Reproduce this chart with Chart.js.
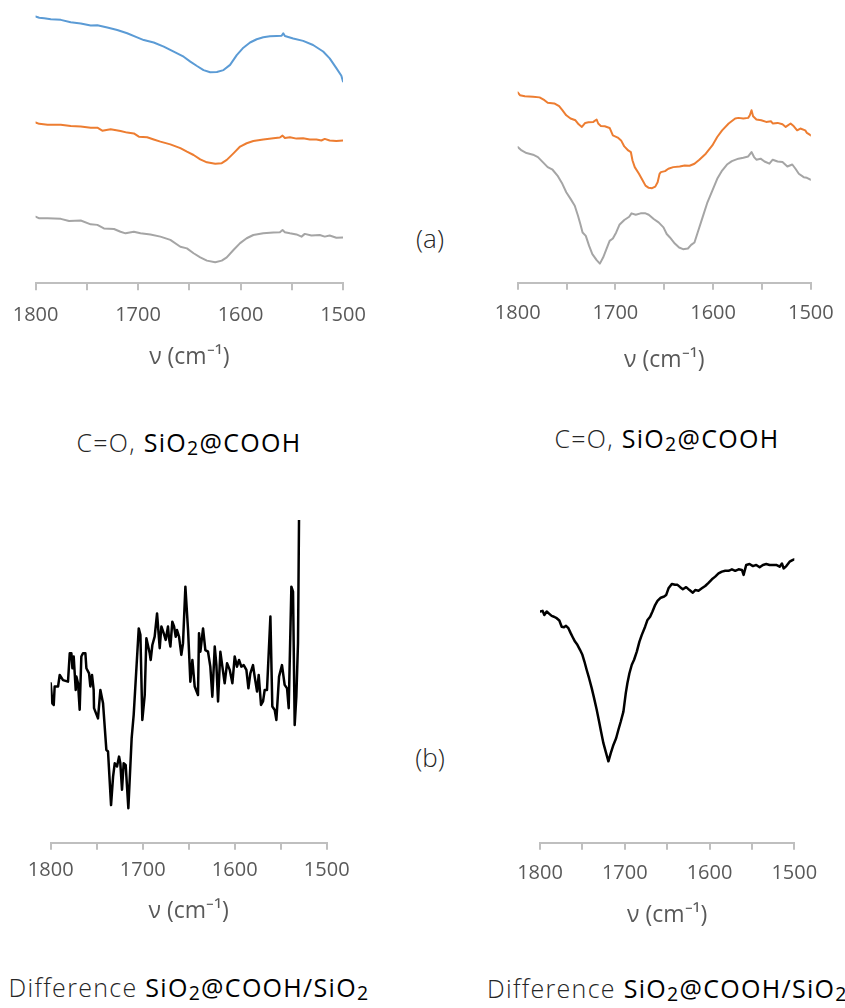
<!DOCTYPE html>
<html>
<head>
<meta charset="utf-8">
<script src="https://cdn.jsdelivr.net/npm/chart.js@4.4.1/dist/chart.umd.min.js"></script>
<style>
  html, body { margin: 0; padding: 0; background: #ffffff; }
  body { width: 845px; height: 1008px; position: relative; overflow: hidden; font-family: 'Open Sans', sans-serif; }
  canvas { position: absolute; }
  .cap { position: absolute; white-space: nowrap; line-height: 1; font-size: 25px; letter-spacing: 1.3px; color: #000; }
  .cap .lt { font-weight: 300; color: #262626; }
  .cap .sb { font-size: 0.78em; position: relative; top: 0.16em; }
  .lab { position: absolute; line-height: 1; font-size: 26px; font-weight: 300; color: #262626; transform: translate(-50%, -50%); }
</style>
</head>
<body>
<canvas id="cTL"></canvas>
<canvas id="cTR"></canvas>
<canvas id="cBL"></canvas>
<canvas id="cBR"></canvas>

<div class="lab" style="left:430px; top:238px;">(a)</div>
<div class="lab" style="left:430px; top:757px;">(b)</div>

<div class="cap" id="capTL" style="left:189px; top:442px; transform:translate(-50%,-50%);"><span class="lt">C=O, </span>SiO<span class="sb">2</span>@COOH</div>
<div class="cap" id="capTR" style="left:667px; top:438px; transform:translate(-50%,-50%);"><span class="lt">C=O, </span>SiO<span class="sb">2</span>@COOH</div>
<div class="cap" id="capBL" style="left:189px; top:987px; transform:translate(-50%,-50%);"><span class="lt">Difference </span>SiO<span class="sb">2</span>@COOH/SiO<span class="sb">2</span></div>
<div class="cap" id="capBR" style="left:487px; top:988px; transform:translate(0,-50%);"><span class="lt">Difference </span>SiO<span class="sb">2</span>@COOH/SiO<span class="sb">2</span></div>

<script>
// ---------- DATA (wavenumber in cm-1, intensity in arbitrary units) ----------
const xTicks = [1800, 1700, 1600, 1500];
const axisTitle = 'ν (cm⁻¹)';

// (a) left panel
const tlBlueX = [1800,1796.4,1791.6,1785.1,1775.4,1765.7,1755.9,1746.2,1739.7,1730.0,1720.3,1710.6,1700.9,1694.4,1684.7,1674.9,1665.2,1655.5,1649.0,1642.5,1636.1,1629.6,1623.1,1616.6,1610.2,1603.7,1597.2,1590.7,1584.2,1577.8,1571.3,1564.8,1559.9,1558.3,1556.7,1548.6,1538.9,1529.2,1519.4,1513.0,1506.5,1501.6,1500];
const tlBlueY = [97.7,97.3,97.1,96.7,96.5,95.6,95.2,94.4,94.5,93.7,92.8,91.6,90.1,89.1,88.2,86.7,84.9,83.0,81.2,79.6,78.1,77.3,77.4,78.1,80.0,83.6,86.3,88.2,89.4,90.1,90.5,90.6,90.7,91.6,90.6,89.7,88.8,87.3,84.9,82.4,78.8,76.0,73.9];

const tlOrangeX = [1800,1796.4,1788.3,1775.4,1765.7,1755.9,1746.2,1739.7,1734.9,1726.8,1717.1,1710.6,1704.1,1699.2,1691.1,1684.7,1678.2,1668.5,1658.7,1652.3,1645.8,1639.3,1632.8,1624.7,1618.3,1613.4,1606.9,1600.4,1594.0,1587.5,1577.8,1568.0,1561.6,1559.0,1556.7,1551.8,1545.4,1538.9,1532.4,1525.9,1521.1,1517.8,1513.0,1506.5,1500];
const tlOrangeY = [58.9,58.4,58.1,58.1,57.6,57.4,57.0,57.0,55.9,56.4,55.8,55.2,54.9,53.7,53.5,52.7,51.9,50.9,49.5,48.2,47.0,45.4,44.3,43.8,44.0,45.2,47.6,50.1,51.3,52.1,52.7,53.1,53.4,54.1,53.2,53.5,53.0,53.1,52.7,52.7,52.3,52.9,52.3,52.1,52.3];

const tlGrayX = [1800,1796.4,1788.3,1775.4,1767.3,1755.9,1746.2,1739.7,1733.3,1723.5,1717.1,1712.2,1704.1,1697.6,1687.9,1678.2,1668.5,1658.7,1652.3,1645.8,1639.3,1632.8,1624.7,1618.3,1613.4,1606.9,1600.4,1594.0,1587.5,1577.8,1568.0,1561.6,1559.0,1556.7,1551.8,1545.4,1540.5,1537.3,1530.8,1522.7,1517.8,1513.0,1506.5,1500];
const tlGrayY = [24.4,23.8,23.8,23.6,22.8,23.0,21.6,21.4,20.1,19.9,18.9,18.3,18.9,18.3,17.9,17.1,15.9,13.4,12.8,11.0,9.5,8.3,7.7,8.3,9.5,12.2,14.7,16.5,17.7,18.3,18.6,18.7,19.5,18.7,18.3,17.9,17.1,18.1,17.5,17.7,17.1,17.5,16.7,16.8];

// (a) right panel
const trOrangeX = [1800,1797.7,1792.7,1784.3,1777.6,1772.6,1769.3,1762.6,1757.6,1754.3,1750.3,1745.9,1740.9,1737.6,1734.3,1730.9,1727.6,1722.6,1719.2,1717.6,1714.9,1710.9,1705.9,1702.6,1697.6,1694.2,1690.9,1686.9,1684.2,1682.5,1680.2,1675.9,1672.5,1669.2,1665.9,1662.5,1659.2,1656.8,1654.8,1653.5,1649.2,1645.8,1640.8,1634.2,1629.1,1624.1,1619.1,1614.1,1607.5,1600.8,1595.8,1590.8,1584.1,1577.4,1574.1,1569.1,1564.1,1562.4,1560.7,1559.1,1555.7,1550.7,1545.7,1540.7,1539.0,1534.0,1529.0,1525.7,1520.7,1517.4,1514.0,1510.7,1505.7,1504.0,1500];
const trOrangeY = [94.7,93.3,92.8,92.5,92.2,90.8,89.5,89.2,87.8,85.8,83.3,81.7,80.8,78.8,77.5,79.5,79.8,80.0,81.2,79.2,78.0,77.8,77.0,73.3,72.2,70.8,67.8,65.8,65.0,60.8,57.5,54.2,51.2,48.3,47.2,47.0,47.8,50.0,54.2,55.0,55.5,56.7,57.5,57.8,58.3,58.2,59.2,61.2,64.2,68.3,72.5,75.8,79.2,81.7,82.0,81.7,82.0,83.3,85.8,82.8,81.2,80.8,80.0,80.3,79.2,79.5,78.8,77.5,79.2,77.8,75.8,76.7,75.8,74.5,73.3];

const trGrayX = [1800,1796.0,1791.0,1784.3,1779.3,1774.3,1769.3,1764.3,1759.3,1754.3,1750.3,1745.9,1741.6,1738.3,1735.9,1733.6,1730.3,1726.9,1723.6,1719.2,1715.9,1712.6,1709.2,1705.9,1702.6,1699.2,1695.9,1690.9,1685.9,1683.5,1679.2,1674.2,1669.2,1665.9,1660.8,1655.8,1650.8,1647.5,1644.2,1639.2,1634.8,1630.8,1625.8,1622.5,1619.1,1615.8,1610.8,1605.8,1600.8,1595.8,1590.8,1585.8,1580.8,1574.1,1569.1,1564.1,1560.7,1558.1,1555.7,1551.4,1547.4,1542.4,1539.0,1534.0,1529.0,1524.0,1519.0,1515.7,1512.3,1507.3,1504.0,1500];
const trGrayY = [67.5,65.8,64.5,63.7,62.5,60.0,57.5,56.2,53.3,49.2,45.0,41.7,38.3,33.3,29.2,25.0,23.3,18.3,14.2,11.2,9.5,12.5,16.7,20.8,22.0,25.0,28.8,31.2,32.8,34.5,33.8,34.5,34.5,33.8,31.7,30.0,27.5,24.2,22.5,19.5,17.5,16.7,17.0,18.8,20.0,25.0,32.5,40.0,45.8,51.7,55.8,58.8,60.5,61.7,62.2,62.8,65.0,62.5,61.2,61.7,60.3,59.2,61.2,60.3,60.0,57.8,58.8,56.7,54.2,52.5,52.2,51.2];

// (b) left panel: difference spectrum
const blDiffX = [1800,1798.2,1796.7,1795.7,1792.0,1790.2,1786.6,1781.2,1779.3,1777.5,1776.4,1775.0,1772.8,1772.1,1770.3,1768.5,1766.7,1764.9,1762.3,1761.2,1758.3,1756.9,1755.1,1753.3,1752.9,1748.6,1746.0,1743.1,1739.5,1737.7,1734.4,1732.2,1730.4,1727.9,1725.7,1724.3,1722.5,1720.7,1718.5,1715.6,1712.0,1709.8,1704.3,1702.5,1700.4,1697.8,1696.0,1692.4,1691.3,1689.5,1687.0,1684.4,1681.5,1679.7,1677.2,1675.0,1672.5,1671.4,1669.9,1667.8,1665.9,1664.1,1662.7,1660.5,1658.0,1656.2,1653.6,1650.7,1648.2,1646.0,1643.5,1639.9,1638.8,1637.3,1634.4,1631.9,1629.0,1626.5,1624.3,1621.7,1619.9,1618.1,1615.6,1613.4,1610.9,1608.3,1605.4,1602.5,1600.0,1597.5,1595.3,1592.8,1590.2,1587.3,1585.1,1583.0,1580.1,1578.3,1575.7,1573.9,1571.4,1569.2,1567.4,1564.9,1561.2,1559.1,1556.5,1554.7,1551.8,1548.6,1545.7,1543.1,1541.3,1538.4,1536.6,1534.8,1533.0,1531.2,1530.1];
const blDiffY = [48.8,42.5,42.0,47.8,47.8,51.4,49.8,49.3,58.2,58.2,53.5,57.2,46.7,50.9,48.8,40.5,57.2,58.2,58.2,53.5,51.9,47.8,51.4,46.7,41.0,37.8,46.7,42.5,27.9,27.4,10.6,19.5,23.7,22.7,25.8,23.7,15.4,23.7,23.2,9.6,31.6,38.9,66.0,64.0,37.3,45.1,62.9,58.2,56.1,60.8,63.4,70.7,59.8,66.6,64.5,62.4,66.6,62.9,60.3,68.1,66.6,63.4,65.5,63.4,57.7,61.3,79.1,65.5,49.3,56.1,47.8,45.1,64.5,58.7,66.0,59.2,58.7,54.0,44.6,60.3,54.5,43.1,58.7,54.0,48.8,55.1,53.0,48.8,57.2,54.0,56.1,54.0,54.5,53.0,47.2,51.9,54.5,50.9,46.2,51.4,42.0,43.1,46.7,46.7,69.7,41.5,40.4,37.3,50.9,54.5,48.3,47.2,41.0,79.1,77.5,35.7,44.6,61.3,100];

// (b) right panel: difference spectrum
const brDiffX = [1800,1796.9,1794.9,1792.1,1789.0,1786.2,1783.5,1780.3,1777.2,1774.4,1771.7,1769.3,1766.5,1763.8,1761.4,1758.7,1755.9,1752.8,1750.0,1747.6,1744.9,1742.1,1739.0,1736.2,1733.1,1730.3,1728.0,1725.2,1722.0,1719.3,1716.5,1713.4,1710.2,1707.5,1704.7,1701.6,1698.8,1696.9,1694.5,1691.7,1689.0,1685.8,1682.7,1679.9,1676.0,1673.2,1670.1,1667.3,1664.2,1661.4,1657.5,1653.5,1651.2,1648.4,1644.5,1640.6,1637.8,1634.6,1631.5,1627.6,1623.6,1619.7,1616.9,1613.0,1609.1,1605.1,1601.2,1597.2,1593.3,1589.4,1585.4,1581.5,1577.6,1573.6,1569.7,1565.7,1561.8,1559.8,1556.7,1552.8,1548.8,1544.9,1540.9,1537.0,1533.1,1529.1,1525.2,1521.3,1517.3,1514.6,1512.6,1509.4,1505.5,1501.6,1500];
const brDiffY = [79.0,79.2,77.8,79.0,78.2,77.5,77.2,76.7,75.9,73.8,73.6,74.1,73.3,71.6,70.2,68.7,67.6,65.9,64.2,61.9,59.0,56.2,52.8,49.4,45.4,41.4,38.0,34.0,30.6,27.8,30.6,33.4,35.7,38.6,41.4,44.8,51.1,54.5,57.9,60.8,62.5,65.3,68.7,71.0,73.8,76.1,77.2,79.0,81.2,82.6,83.7,84.1,84.6,86.9,88.4,88.1,88.1,87.3,86.6,87.3,86.3,85.4,86.3,86.1,86.9,87.7,88.8,90.0,90.9,92.0,92.6,92.9,92.9,93.4,92.9,93.4,93.2,91.5,94.9,95.2,94.5,94.9,94.1,94.9,95.2,94.9,94.9,94.9,94.3,95.4,93.7,94.5,96.0,96.6,96.8];

// ---------- CHART BUILDING ----------
const BLUE = '#5b9bd5', ORANGE = '#ed7d31', GRAY = '#a5a5a5', BLACK = '#000000';
Chart.defaults.font.family = "'Open Sans', sans-serif";

function pts(xs, ys) { return xs.map((x, i) => ({ x: x, y: ys[i] })); }

function makeChart(id, g, series, yMin, yMax) {
  const FS = 20, LH = FS * 1.2, TL = 7;
  const TFS = 23, TLH = TFS * 1.2;
  const pad = g.labelY - g.axisY - TL - LH / 2;
  const tPadTop = g.titleY - g.axisY - TL - LH - 2 * pad - TLH / 2;
  const hExact = g.titleY + TLH / 2 - g.top;
  const H = Math.ceil(hExact);
  const cv = document.getElementById(id);
  cv.width = g.width; cv.height = H;
  cv.style.left = g.left + 'px'; cv.style.top = g.top + 'px';
  cv.style.width = g.width + 'px'; cv.style.height = H + 'px';
  new Chart(cv, {
    type: 'line',
    data: {
      datasets: series.map(s => ({
        data: pts(s.x, s.y),
        borderColor: s.color,
        borderWidth: s.width,
        pointRadius: 0,
        tension: 0,
        fill: false,
        borderJoinStyle: 'round',
        borderCapStyle: 'round'
      }))
    },
    options: {
      responsive: false,
      animation: false,
      devicePixelRatio: 1,
      layout: {
        padding: {
          left: g.areaLeft - g.left,
          right: g.left + g.width - g.areaRight,
          top: g.areaTop - g.top,
          bottom: H - hExact
        }
      },
      plugins: { legend: { display: false }, tooltip: { enabled: false } },
      scales: {
        x: {
          type: 'linear',
          reverse: true,
          min: 1500, max: 1800,
          border: { display: true, color: '#bfbfbf', width: 2 },
          grid: { display: true, drawOnChartArea: false, drawTicks: true, tickLength: TL, color: '#bfbfbf', lineWidth: 2 },
          ticks: {
            stepSize: 50, autoSkip: false, maxRotation: 0, padding: pad,
            color: '#595959', font: { size: FS, weight: 400 },
            callback: v => (xTicks.includes(v) ? String(v) : '')
          },
          title: {
            display: true, text: axisTitle, color: '#595959',
            font: { size: TFS, weight: 400 },
            padding: { top: tPadTop, bottom: 0 }
          }
        },
        y: { display: false, min: yMin, max: yMax }
      }
    }
  });
}

makeChart('cTL', { left: 0, top: 0, width: 390, areaLeft: 35, areaRight: 343, areaTop: 10.3, axisY: 283.3, labelY: 315, titleY: 357 },
  [ { x: tlBlueX, y: tlBlueY, color: BLUE, width: 2 },
    { x: tlOrangeX, y: tlOrangeY, color: ORANGE, width: 2 },
    { x: tlGrayX, y: tlGrayY, color: GRAY, width: 2 } ], 0, 100);

makeChart('cTR', { left: 460, top: 0, width: 385, areaLeft: 517.7, areaRight: 817.3, areaTop: 81.7, axisY: 282.7, labelY: 313, titleY: 360 },
  [ { x: trOrangeX, y: trOrangeY, color: ORANGE, width: 2 },
    { x: trGrayX, y: trGrayY, color: GRAY, width: 2 } ], 0, 100);

makeChart('cBL', { left: 0, top: 480, width: 390, areaLeft: 50.7, areaRight: 326.7, areaTop: 520, axisY: 842.7, labelY: 870.7, titleY: 911.7 },
  [ { x: blDiffX, y: blDiffY, color: BLACK, width: 2.5 } ], -1.2, 100);

makeChart('cBR', { left: 460, top: 480, width: 385, areaLeft: 540, areaRight: 794.3, areaTop: 550, axisY: 842.7, labelY: 873.3, titleY: 915.7 },
  [ { x: brDiffX, y: brDiffY, color: BLACK, width: 2.5 } ], 0, 100);
</script>
</body>
</html>
